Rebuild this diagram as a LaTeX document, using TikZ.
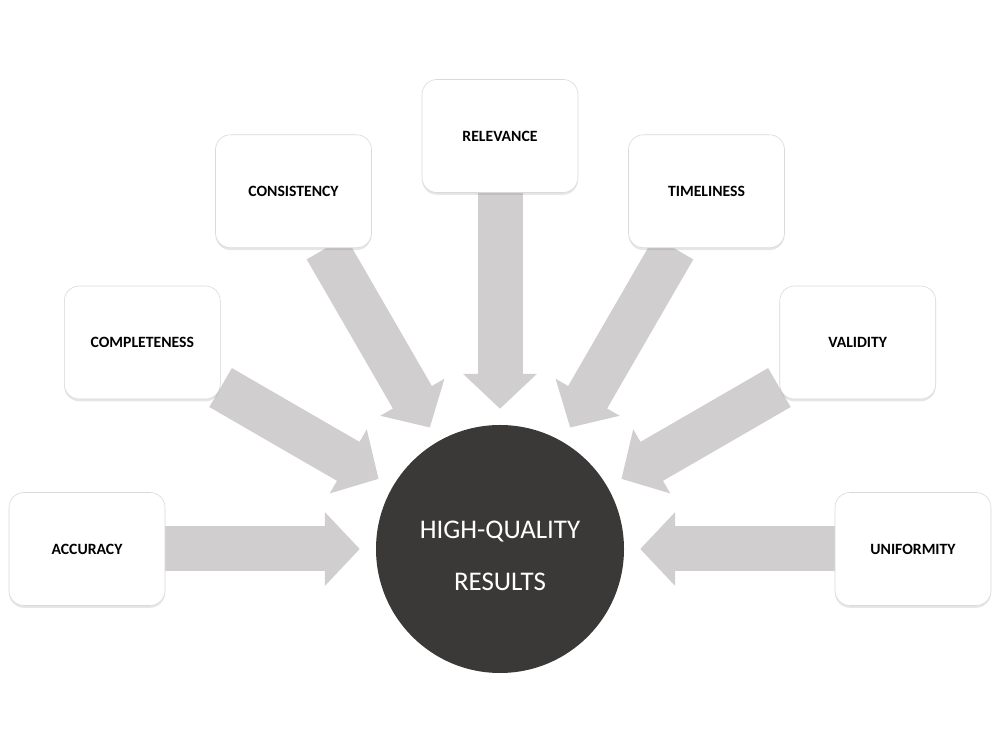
\documentclass[tikz,border=0pt]{standalone}
\usepackage{fontspec}
\setmainfont{Carlito}
\usetikzlibrary{positioning,arrows.meta,shadows,backgrounds}
\definecolor{arrowgray}{HTML}{D0CECE}
\definecolor{hubdark}{HTML}{3B3838}
\definecolor{boxline}{HTML}{D9D9D9}

\begin{document}
\begin{tikzpicture}[x=0.3mm, y=0.3mm,
  factor/.style={draw=boxline, rounded corners=4.5mm, minimum width=46.8mm, minimum height=33.9mm, align=center, font=\fontsize{13.4}{15}\selectfont\bfseries, fill=white, line width=0.5pt, drop shadow={shadow xshift=0mm, shadow yshift=-0.7mm, opacity=0.2}},
  hub/.style={circle, fill=hubdark, minimum size=74.4mm, inner sep=0pt, align=center, text=white, font=\fontsize{23}{44}\selectfont},
  feed/.style={draw=arrowgray, line width=13.5mm, -{Triangle[length=10.5mm, width=21.6mm]}, shorten >=4.8mm}
]
  \useasboundingbox (0,0) rectangle (1000,750);

  \node[hub] (quality) at (500,201) {\raisebox{-3.8mm}[0pt][0pt]{\begin{tabular}{c}HIGH-QUALITY\\RESULTS\end{tabular}}};

  \node[factor] (accuracy) at (87,201) {ACCURACY};
  \node[factor] (complete) at (142.3,407.5) {COMPLETENESS};
  \node[factor] (consist) at (293.5,558.7) {CONSISTENCY};
  \node[factor] (relevance) at (500,614) {RELEVANCE};
  \node[factor] (timely) at (706.5,558.7) {TIMELINESS};
  \node[factor] (validity) at (857.7,407.5) {VALIDITY};
  \node[factor] (uniform) at (913,201) {UNIFORMITY};

  \begin{pgfonlayer}{background}
    \draw[feed] (accuracy) -- (quality);
    \draw[feed] (complete) -- (quality);
    \draw[feed] (consist) -- (quality);
    \draw[feed] (relevance) -- (quality);
    \draw[feed] (timely) -- (quality);
    \draw[feed] (validity) -- (quality);
    \draw[feed] (uniform) -- (quality);
  \end{pgfonlayer}
\end{tikzpicture}
\end{document}
